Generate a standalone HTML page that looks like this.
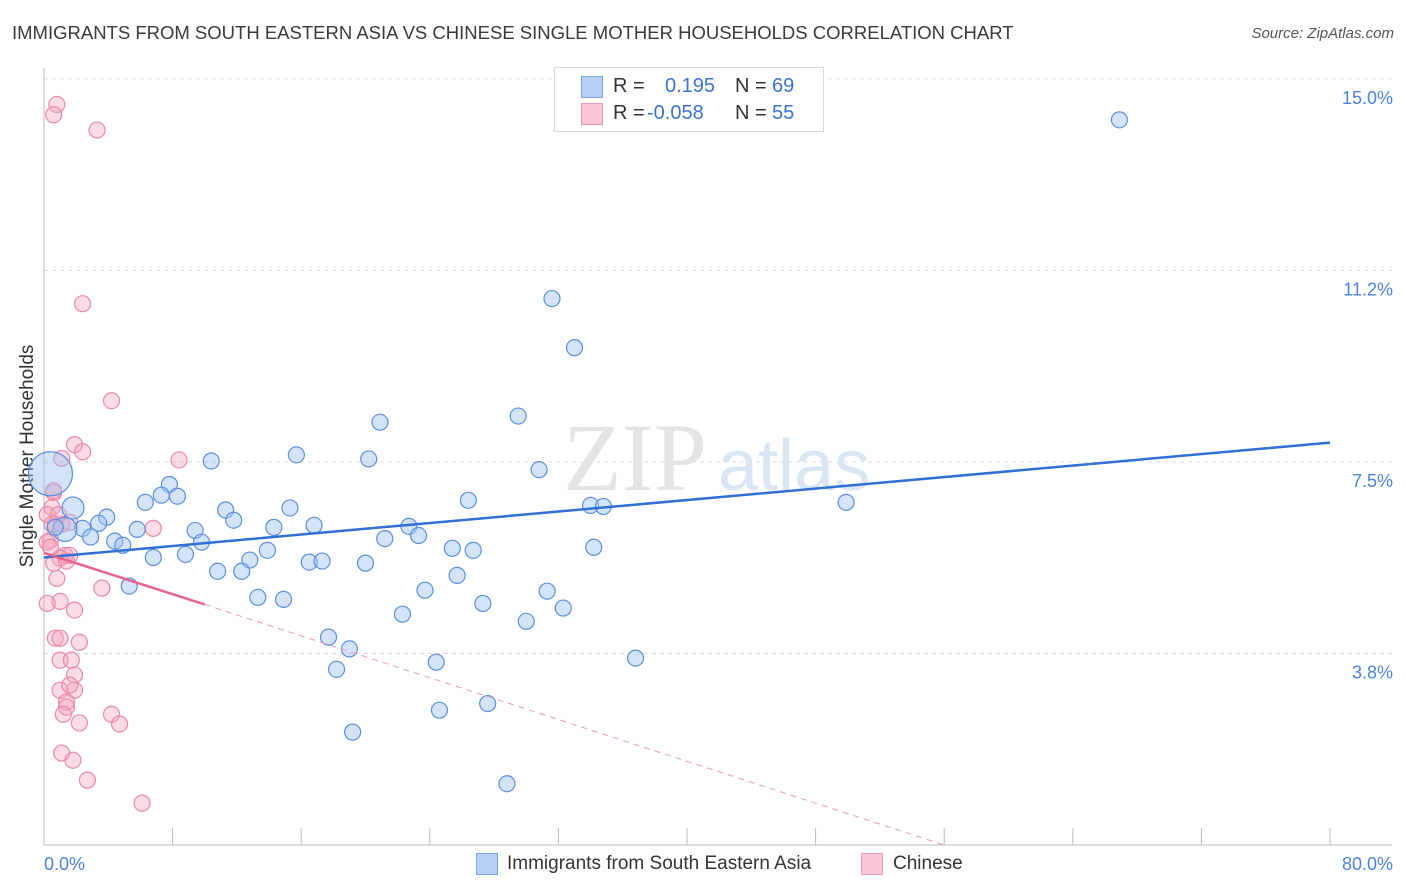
<!DOCTYPE html>
<html><head><meta charset="utf-8">
<style>
body{margin:0;background:#fff;font-family:"Liberation Sans",sans-serif;}
#wrap{position:relative;width:1406px;height:892px;overflow:hidden;}
.t{position:absolute;white-space:nowrap;}
</style></head>
<body>
<div id="wrap">
<div class="t" style="left:12px;top:22px;font-size:18.5px;color:#3a3a3a;">IMMIGRANTS FROM SOUTH EASTERN ASIA VS CHINESE SINGLE MOTHER HOUSEHOLDS CORRELATION CHART</div>
<div class="t" style="right:12px;top:25px;font-size:15px;color:#555;font-style:italic;">Source: ZipAtlas.com</div>
<div class="t" style="left:28px;top:456px;font-size:19px;color:#333;transform:translate(-50%,-50%) rotate(-90deg);">Single Mother Households</div>
<svg id="svg" width="1406" height="892" style="position:absolute;left:0;top:0;"></svg>
<div style="position:absolute;left:554px;top:67px;width:268px;height:63px;border:1px solid #d8d8d8;background:#fff;font-size:20px;">
 <div style="position:absolute;left:26px;top:8px;width:20px;height:20px;background:#b7d0f3;border:1px solid #7aa6e6;"></div>
 <div class="t" style="left:58px;top:7px;color:#333;">R =</div>
 <div class="t" style="left:110px;top:7px;color:#3a74d0;">0.195</div>
 <div class="t" style="left:180px;top:7px;color:#333;">N =</div>
 <div class="t" style="left:217px;top:7px;color:#3a74d0;">69</div>
 <div style="position:absolute;left:26px;top:35px;width:20px;height:20px;background:#f9c6d5;border:1px solid #eb9ab4;"></div>
 <div class="t" style="left:58px;top:34px;color:#333;">R =</div>
 <div class="t" style="left:92px;top:34px;color:#3a74d0;">-0.058</div>
 <div class="t" style="left:180px;top:34px;color:#333;">N =</div>
 <div class="t" style="left:217px;top:34px;color:#3a74d0;">55</div>
</div>
<div style="position:absolute;left:476px;top:853px;width:20px;height:20px;background:#b7d0f3;border:1px solid #7aa6e6;"></div>
<div class="t" style="left:507px;top:853px;font-size:19px;color:#333;">Immigrants from South Eastern Asia</div>
<div style="position:absolute;left:861px;top:853px;width:20px;height:20px;background:#f9c6d5;border:1px solid #eb9ab4;"></div>
<div class="t" style="left:893px;top:853px;font-size:19px;color:#333;">Chinese</div>
</div>
<script>
const xMin=0,xMax=80,yMin=0,yMax=15;
const yTicks=[3.75,7.5,11.25,15];
const yTickLabels=["3.8%","7.5%","11.2%","15.0%"];
const xTicks=[0,8,16,24,32,40,48,56,64,72,80];
const xEdgeLabels=["0.0%","80.0%"];
const blueX=[66.9,31.6,33.0,29.5,20.9,15.7,20.2,10.4,30.8,7.8,7.3,8.3,6.3,26.4,49.9,1.8,11.3,15.3,34.0,34.8,3.9,3.4,11.8,2.4,1.3,0.7,2.9,5.8,9.4,16.8,14.3,22.7,23.3,21.2,4.4,4.9,9.8,13.9,25.4,26.7,34.2,6.8,8.8,12.8,16.5,17.3,20.0,10.8,12.3,25.7,5.3,23.7,31.3,13.3,14.9,27.3,32.3,22.3,30.0,17.7,19.0,36.8,24.4,18.2,27.6,24.6,19.2,28.8,0.4];
const blueY=[14.2,10.7,9.74,8.4,8.28,7.64,7.56,7.52,7.35,7.06,6.85,6.83,6.71,6.75,6.71,6.6,6.56,6.6,6.65,6.63,6.42,6.3,6.36,6.2,6.18,6.22,6.03,6.18,6.16,6.26,6.22,6.24,6.06,6.0,5.95,5.87,5.93,5.77,5.81,5.77,5.83,5.63,5.69,5.58,5.54,5.56,5.52,5.36,5.36,5.28,5.07,4.99,4.97,4.85,4.81,4.73,4.64,4.52,4.38,4.07,3.84,3.66,3.58,3.44,2.77,2.64,2.21,1.2,7.27];
const blueR=[8,8,8,8,8,8,8,8,8,8,8,8,8,8,8,11,8,8,8,8,8,8,8,8,12,8,8,8,8,8,8,8,8,8,8,8,8,8,8,8,8,8,8,8,8,8,8,8,8,8,8,8,8,8,8,8,8,8,8,8,8,8,8,8,8,8,8,8,22];
const pinkX=[0.8,0.6,3.3,2.4,4.2,1.9,2.4,1.1,8.4,0.6,0.5,0.2,0.5,0.7,1.1,1.6,6.8,0.4,1.3,1.6,1.0,0.6,1.4,0.8,0.2,1.0,1.9,3.6,0.7,1.0,2.2,1.0,1.7,1.9,1.0,1.9,1.6,1.4,1.4,1.2,4.2,2.2,4.7,1.1,1.8,2.7,6.1,0.2,0.4,0.6,0.9];
const pinkY=[14.5,14.3,14.0,10.6,8.7,7.84,7.7,7.57,7.54,6.9,6.61,6.47,6.28,6.28,6.28,6.32,6.2,5.97,5.67,5.67,5.62,5.52,5.56,5.22,4.73,4.77,4.6,5.03,4.05,4.05,3.97,3.62,3.62,3.33,3.03,3.03,3.13,2.8,2.7,2.56,2.56,2.39,2.37,1.8,1.66,1.27,0.82,5.93,5.83,6.94,6.47];
const blueTrend=[[0,5.63],[80,7.88]];
const pinkTrend=[[0,5.72],[10,4.71]];
const pinkDash=[[10,4.71],[56,0]];

const L=44,R=1330,T=79,B=845;
const sx=v=>L+(v-xMin)/(xMax-xMin)*(R-L);
const sy=v=>B-(v-yMin)/(yMax-yMin)*(B-T);
const svg=document.getElementById('svg');
const NS='http://www.w3.org/2000/svg';
function mk(tag,attrs){const e=document.createElementNS(NS,tag);for(const k in attrs)e.setAttribute(k,attrs[k]);svg.appendChild(e);return e;}
yTicks.forEach((v,i)=>{
 const g=mk('line',{x1:L,x2:1392,y1:sy(v),y2:sy(v),stroke:'#dcdcdc','stroke-dasharray':'4,4'});
 
 
 const t=mk('text',{x:1393,y:sy(v)+25,'text-anchor':'end','font-size':18,fill:'#4a84dc','font-family':'Liberation Sans'});
 t.textContent=yTickLabels[i];
 
 
});
const ax=mk('line',{x1:L,x2:L,y1:68,y2:B,stroke:'#bbb'});


const bx=mk('line',{x1:L,x2:1392,y1:B,y2:B,stroke:'#bbb'});


xTicks.forEach(v=>{
 const t=mk('line',{x1:sx(v),x2:sx(v),y1:828,y2:B,stroke:'#bbb'});
 
 
});
[[0,'start',44],[1,'end',1393]].forEach(([i,a,x])=>{
 const t=mk('text',{x:x,y:870,'text-anchor':a,'font-size':18,fill:'#4a84dc','font-family':'Liberation Sans'});
 t.textContent=xEdgeLabels[i];
 
 
});
const wm=mk('text',{x:635,y:490,'text-anchor':'middle','font-size':96,fill:'#e4e4e4','font-family':'Liberation Serif'});
wm.textContent='ZIP';


const wm2=mk('text',{x:718,y:490,'text-anchor':'start','font-size':72,fill:'#dbe6f5','font-family':'Liberation Sans'});
wm2.textContent='atlas';


pinkX.forEach((v,i)=>{
 const c=mk('circle',{cx:sx(v),cy:sy(pinkY[i]),r:8,fill:'rgba(245,165,190,0.4)',stroke:'#e98aa8','stroke-width':1.2});
 
 
});
blueX.forEach((v,i)=>{
 const c=mk('circle',{cx:sx(v),cy:sy(blueY[i]),r:blueR[i],fill:'rgba(160,195,240,0.45)',stroke:'#5b8fe0','stroke-width':1.2});
 
 
});
const bl=mk('line',{x1:sx(blueTrend[0][0]),y1:sy(blueTrend[0][1]),x2:sx(blueTrend[1][0]),y2:sy(blueTrend[1][1]),stroke:'#2f6fd6','stroke-width':2.5});


const pl=mk('line',{x1:sx(pinkTrend[0][0]),y1:sy(pinkTrend[0][1]),x2:sx(pinkTrend[1][0]),y2:sy(pinkTrend[1][1]),stroke:'#e5638c','stroke-width':2.5});


const pd=mk('line',{x1:sx(pinkDash[0][0]),y1:sy(pinkDash[0][1]),x2:sx(pinkDash[1][0]),y2:sy(pinkDash[1][1]),stroke:'#eb9ab4','stroke-width':1,'stroke-dasharray':'6,5'});


</script>
</body></html>
